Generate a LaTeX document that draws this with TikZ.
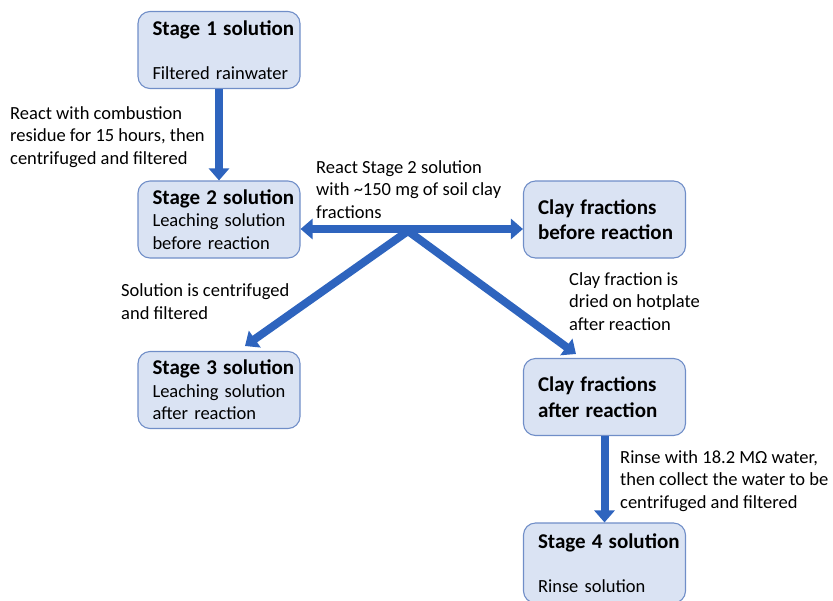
\documentclass[tikz,border=0pt]{standalone}
\usepackage{fontspec}
\setmainfont{Carlito}
\usepackage{tikz}
\usetikzlibrary{arrows.meta}
\newcommand{\cajaancho}{162pt}
\newcommand{\cajaalto}{77pt}
\newcommand{\etapa}[1]{{\fontsize{21}{22.5}\selectfont\bfseries #1}}
\definecolor{azulfondo}{RGB}{218,227,243}
\definecolor{azulborde}{RGB}{112,142,200}
\definecolor{azulflecha}{RGB}{46,100,190}
\tikzset{>={Triangle[width=20pt,length=12pt]}}
\tikzset{caja/.style={draw=azulborde, fill=azulfondo, line width=1.1pt, rounded corners=12pt, minimum width=\cajaancho, minimum height=\cajaalto, text width=155pt, inner xsep=0pt, align=left, execute at begin node={\leftskip=11pt}, font=\fontsize{18.5}{22.5}\selectfont},
	nota/.style={anchor=base west, inner sep=0pt, align=left, font=\fontsize{18.5}{22.5}\selectfont},
	flecha/.style={azulflecha, line width=8pt}}

\begin{document}
\begin{tikzpicture}[x=1pt,y=-1pt]
		 \clip (0,0) rectangle (833,600);
		 % cajas
		 \node[caja] (s1) at (219,50) {\etapa{Stage 1 solution}\\[22pt]Filtered rainwater};
		 \node[caja] (s2) at (219,219.5) {\etapa{Stage 2 solution}\\Leaching solution\\before reaction};
		 \node[caja] (cb) at (604.5,219.5) {\etapa{Clay fractions}\\[3pt]\etapa{before reaction}};
		 \node[caja] (s3) at (219,390) {\etapa{Stage 3 solution}\\Leaching solution\\after reaction};
		 \node[caja] (ca) at (604.5,397) {\etapa{Clay fractions}\\[3pt]\etapa{after reaction}};
		 \node[caja, minimum height=80pt] (s4) at (604.5,563) {\etapa{Stage 4 solution}\\[22pt]Rinse solution};
		 
		 \coordinate (cruce) at (408,231);
		 \coordinate (punta3) at (245,346);
		 \coordinate (puntaca) at (576,354);
		 
		 \draw[->,flecha] (s1.south) -- (s2.north);
		 \draw[<->,flecha] ([yshift=-9.5pt]s2.east) -- ([yshift=-9.5pt]cb.west);
		 \draw[->,flecha] (cruce) -- (punta3);
		 \draw[->,flecha] (cruce) -- (puntaca);
		 \draw[->,flecha] (ca.south) -- (s4.north);
		 
		 % textos (base = ultima linea)
		 \node[nota] (n1) at (10,164) {React with combustion\\residue for 15 hours, then\\centrifuged and filtered};
		 \node[nota] (n2) at (316,218) {React Stage 2 solution\\with \textasciitilde150 mg of soil clay\\fractions};
		 \node[nota] (n3) at (121,319) {Solution is centrifuged\\and filtered};
		 \node[nota] (n4) at (569,330) {Clay fraction is\\dried on hotplate\\after reaction};
		 \node[nota] (n5) at (620,508) {Rinse with 18.2 MΩ water,\\then collect the water to be\\centrifuged and filtered};
		\end{tikzpicture}
\end{document}
